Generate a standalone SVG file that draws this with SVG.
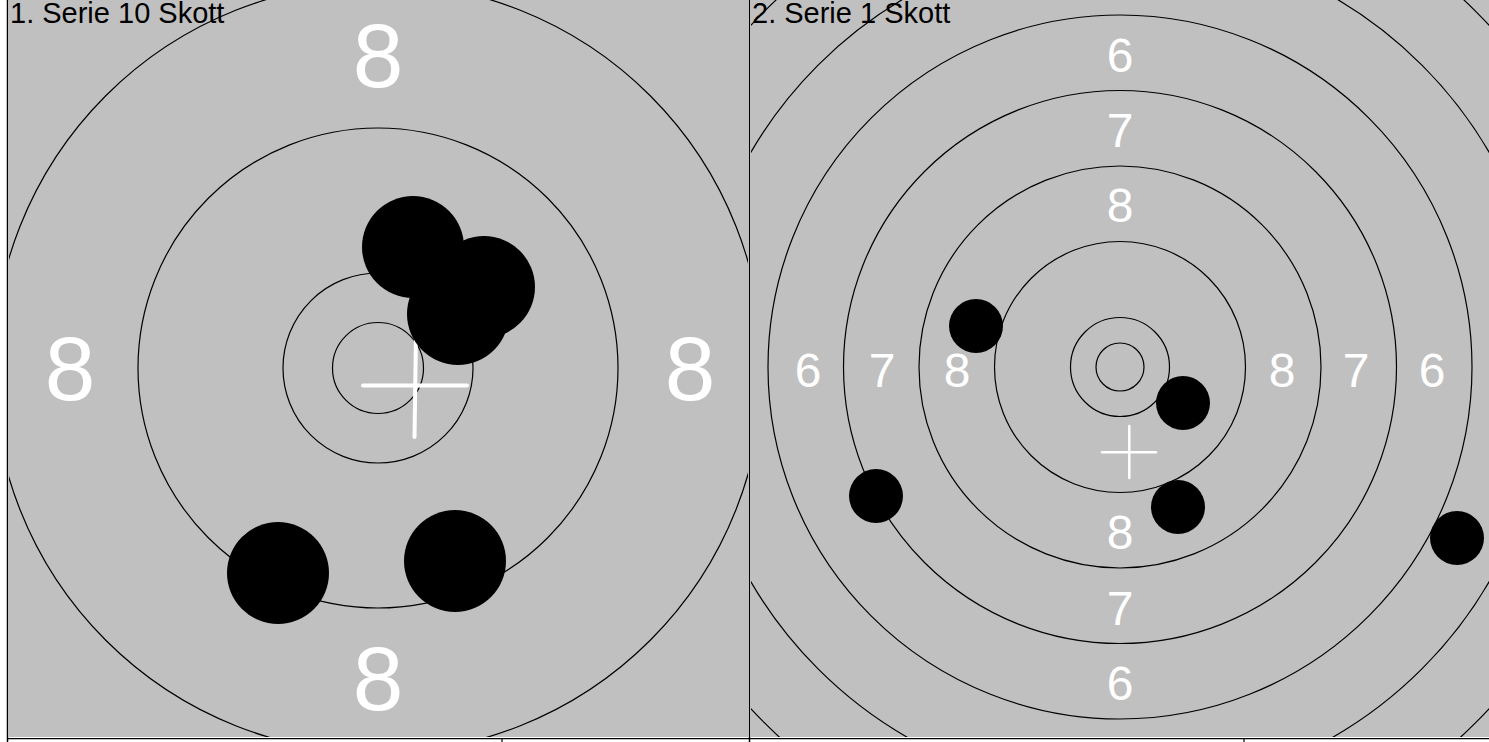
<svg xmlns="http://www.w3.org/2000/svg" width="1489" height="742" viewBox="0 0 1489 742">
<style>
.bg{fill:#c0c0c0}
.ring{fill:none;stroke:#000;stroke-width:1.2}
.shot{fill:#000}
.title{font-family:"Liberation Sans",Arial,sans-serif;font-size:29px;fill:#000}
.bigl{font-family:"Liberation Sans",Arial,sans-serif;font-size:91px;fill:#fff;text-anchor:middle}
.smalll{font-family:"Liberation Sans",Arial,sans-serif;font-size:48px;fill:#fff;text-anchor:middle}
.cross{stroke:#fff;stroke-linecap:round;fill:none}
.frame{stroke:#000;fill:none}
</style>
<defs>
<clipPath id="clipL"><rect x="9" y="0" width="739" height="737"/></clipPath>
<clipPath id="clipR"><rect x="751" y="0" width="738" height="737"/></clipPath>
</defs>
<rect width="1489" height="742" fill="#fff"/>
<g id="panel1" clip-path="url(#clipL)">
<rect class="bg" x="9" y="0" width="739" height="737"/>
<g id="rings1">
<circle class="ring" cx="378" cy="368" r="45.5"/>
<circle class="ring" cx="378" cy="368" r="95"/>
<circle class="ring" cx="378" cy="368" r="240"/>
<circle class="ring" cx="378" cy="368" r="385"/>
</g>
<g id="labels1">
<text class="bigl" x="378" y="87">8</text>
<text class="bigl" x="378" y="710">8</text>
<text class="bigl" x="70" y="400">8</text>
<text class="bigl" x="690" y="400">8</text>
</g>
<g id="cross1">
<line class="cross" stroke-width="4" x1="416" y1="333" x2="414.5" y2="437"/>
<line class="cross" stroke-width="4" x1="363" y1="385.5" x2="467" y2="385.5"/>
</g>
<g id="shots1">
<circle class="shot" cx="413" cy="247" r="51"/>
<circle class="shot" cx="484" cy="287" r="51"/>
<circle class="shot" cx="458" cy="314" r="51"/>
<circle class="shot" cx="278" cy="573" r="51"/>
<circle class="shot" cx="455" cy="561" r="51"/>
</g>
<text class="title" x="10" y="23">1. Serie 10 Skott</text>
</g>
<g id="panel2" clip-path="url(#clipR)">
<rect class="bg" x="751" y="0" width="738" height="737"/>
<g id="rings2">
<circle class="ring" cx="1120" cy="367" r="24"/>
<circle class="ring" cx="1120" cy="367" r="49.5"/>
<circle class="ring" cx="1120" cy="367" r="125.5"/>
<circle class="ring" cx="1120" cy="367" r="201"/>
<circle class="ring" cx="1120" cy="367" r="276.5"/>
<circle class="ring" cx="1120" cy="367" r="352"/>
<circle class="ring" cx="1120" cy="367" r="427"/>
<circle class="ring" cx="1120" cy="367" r="503"/>
</g>
<g id="labels2">
<text class="smalll" x="1120" y="72">6</text>
<text class="smalll" x="1120" y="147">7</text>
<text class="smalll" x="1120" y="222">8</text>
<text class="smalll" x="1120" y="549">8</text>
<text class="smalll" x="1120" y="625">7</text>
<text class="smalll" x="1120" y="700">6</text>
<text class="smalll" x="808" y="387">6</text>
<text class="smalll" x="882" y="387">7</text>
<text class="smalll" x="957" y="387">8</text>
<text class="smalll" x="1282" y="387">8</text>
<text class="smalll" x="1356" y="387">7</text>
<text class="smalll" x="1432" y="387">6</text>
</g>
<g id="cross2">
<line class="cross" stroke-width="2.5" x1="1129.3" y1="426" x2="1129.3" y2="478"/>
<line class="cross" stroke-width="2.5" x1="1102" y1="452.3" x2="1156" y2="452.3"/>
</g>
<g id="shots2">
<circle class="shot" cx="976" cy="326" r="27"/>
<circle class="shot" cx="1183" cy="403" r="27"/>
<circle class="shot" cx="876" cy="496" r="27"/>
<circle class="shot" cx="1178" cy="507" r="27"/>
<circle class="shot" cx="1457" cy="538" r="27"/>
</g>
<text class="title" x="752" y="23">2. Serie 1 Skott</text>
</g>
<g id="frame">
<line class="frame" stroke-width="1.5" x1="7.5" y1="0" x2="7.5" y2="742"/>
<line class="frame" stroke-width="1.5" x1="749.5" y1="0" x2="749.5" y2="742"/>
<line class="frame" stroke-width="1.2" x1="7" y1="738.6" x2="1489" y2="738.6"/>
<line class="frame" stroke-width="1.2" x1="502" y1="739" x2="502" y2="742"/>
<line class="frame" stroke-width="1.2" x1="1244" y1="739" x2="1244" y2="742"/>
</g>
</svg>
